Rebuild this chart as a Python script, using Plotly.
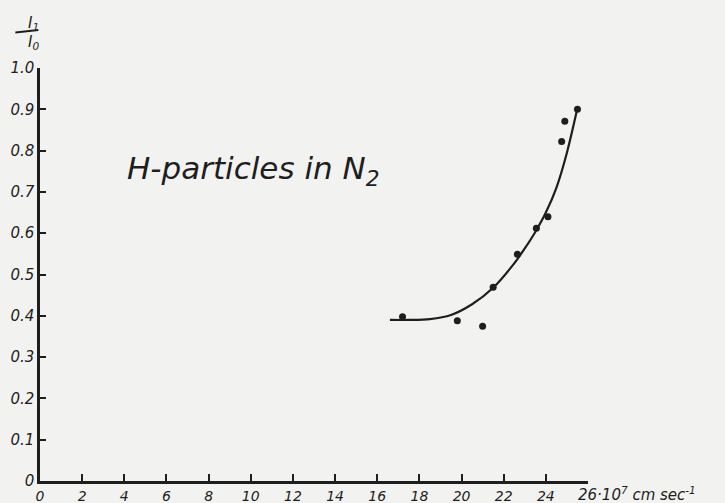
import plotly.graph_objects as go

# measured points
pt_x = [17.2, 19.8, 21.0, 21.5, 22.65, 23.55, 24.1, 24.75, 24.9, 25.5]
pt_y = [0.398, 0.388, 0.375, 0.469, 0.549, 0.612, 0.640, 0.822, 0.871, 0.900]

# smooth curve drawn through them
curve_x = [16.6, 17.5, 18.5, 19.5, 20.5, 21.5, 22.5, 23.0, 23.5, 24.0, 24.5, 25.0, 25.5]
curve_y = [0.390, 0.390, 0.392, 0.402, 0.428, 0.468, 0.527, 0.563, 0.603, 0.650, 0.710, 0.795, 0.903]

x_ticks = [0, 2, 4, 6, 8, 10, 12, 14, 16, 18, 20, 22, 24, 26]
x_ticklabels = ["0", "2", "4", "6", "8", "10", "12", "14", "16", "18", "20", "22", "24", ""]
y_ticks = [0, 0.1, 0.2, 0.3, 0.4, 0.5, 0.6, 0.7, 0.8, 0.9, 1.0]
y_ticklabels = ["0", "0.1", "0.2", "0.3", "0.4", "0.5", "0.6", "0.7", "0.8", "0.9", "1.0"]

title_text = "H-particles in N<sub>2</sub>"
unit_text = "26·10<sup>7</sup> cm sec<sup>-1</sup>"
ylab_num = "I<sub>1</sub>"
ylab_den = "I<sub>0</sub>"

ink = "#1e1e1e"
fnt = "DejaVu Sans"
bg = "#f2f2f0"

fig = go.Figure()
fig.add_trace(go.Scatter(x=curve_x, y=curve_y, mode="lines",
                         line=dict(color=ink, width=2.2, shape="spline", smoothing=0.8),
                         hoverinfo="skip", showlegend=False))
fig.add_trace(go.Scatter(x=pt_x, y=pt_y, mode="markers",
                         marker=dict(color=ink, size=7), showlegend=False))

fig.add_annotation(x=10.15, y=0.752, xref="x", yref="y", text=title_text, showarrow=False,
                   font=dict(family=fnt, size=31, color=ink, style="italic"))
fig.add_annotation(x=26, y=0, xref="x", yref="y", text=unit_text, showarrow=False,
                   xanchor="left", yanchor="top", xshift=-12, yshift=-1,
                   font=dict(family=fnt, size=15, color=ink, style="italic"))
# fraction I1 / I0 above the y axis
fig.add_annotation(x=-0.024, y=1.088, xref="paper", yref="paper", text=ylab_num,
                   showarrow=False, yanchor="bottom", yshift=-2, borderpad=0,
                   font=dict(family=fnt, size=15, color=ink, style="italic"))
fig.add_annotation(x=-0.024, y=1.088, xref="paper", yref="paper", text=ylab_den,
                   showarrow=False, yanchor="top", yshift=0, borderpad=0,
                   font=dict(family=fnt, size=15, color=ink, style="italic"))
fig.add_shape(type="line", xref="paper", yref="paper", x0=-0.045, x1=-0.003, y0=1.086, y1=1.092,
              line=dict(color=ink, width=2))

fig.update_layout(
    width=725, height=503,
    paper_bgcolor=bg, plot_bgcolor=bg,
    margin=dict(l=40, r=137, t=68, b=22, autoexpand=False),
    font=dict(family=fnt, color=ink, style="italic"),
    xaxis=dict(range=[0, 26], tickvals=x_ticks, ticktext=x_ticklabels,
               showgrid=False, zeroline=False, showline=True, linecolor=ink, linewidth=2.5,
               ticks="inside", ticklen=7, tickwidth=2, tickcolor=ink,
               tickfont=dict(size=14, family=fnt, style="italic"), automargin=False),
    yaxis=dict(range=[0, 1.0], tickvals=y_ticks, ticktext=y_ticklabels,
               showgrid=False, zeroline=False, showline=True, linecolor=ink, linewidth=2.5,
               ticks="inside", ticklen=6, tickwidth=2, tickcolor=ink,
               tickfont=dict(size=15, family=fnt, style="italic"), automargin=False),
)

fig.write_html("out.html", config={"displayModeBar": False})
with open("out.html", "r", encoding="utf-8") as f:
    html = f.read()
html = html.replace("<head>", "<head><style>html,body{margin:0;padding:0;background:%s;overflow:hidden;}</style>" % bg, 1)
with open("out.html", "w", encoding="utf-8") as f:
    f.write(html)
